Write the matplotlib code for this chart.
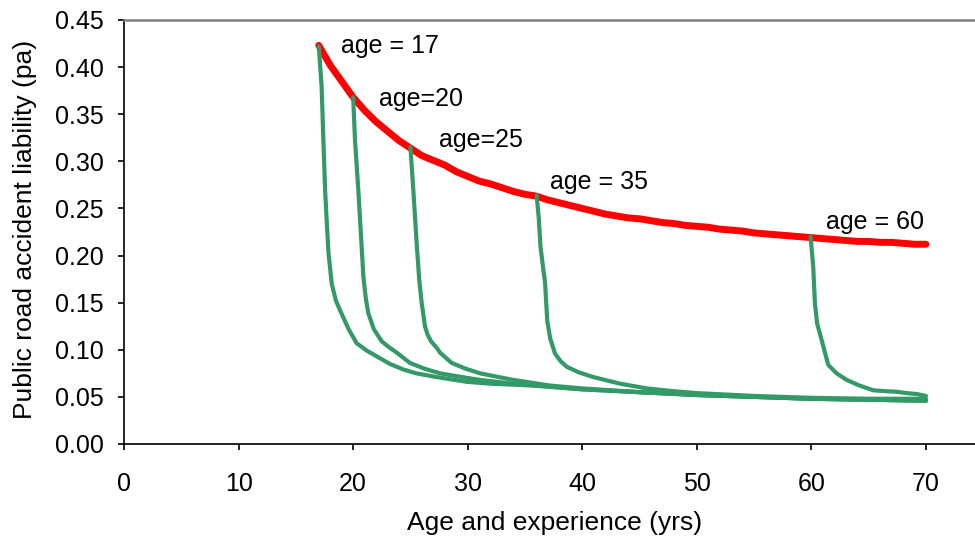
import matplotlib
matplotlib.use("Agg")
import matplotlib.pyplot as plt

plt.rcParams['font.family'] = ['Liberation Sans', 'DejaVu Sans']

# Red envelope: liability at start of driving by age
red_age = list(range(17, 71))
red_pa = [0.423, 0.402, 0.385, 0.368, 0.354, 0.342, 0.332, 0.322, 0.314, 0.306,
          0.301, 0.296, 0.289, 0.284, 0.279, 0.276, 0.272, 0.268, 0.265, 0.263,
          0.259, 0.256, 0.253, 0.250, 0.247, 0.244, 0.242, 0.240, 0.239, 0.237,
          0.235, 0.234, 0.232, 0.231, 0.230, 0.228, 0.227, 0.226, 0.224, 0.223,
          0.222, 0.221, 0.220, 0.219, 0.218, 0.217, 0.216, 0.215, 0.215, 0.214,
          0.214, 0.213, 0.212, 0.212]

# Green curves: liability as experience accumulates from a given starting age
g17_age = [17.0, 17.25, 17.4, 17.55, 17.7, 17.84, 18.13, 18.5, 19.0, 19.6, 20.3,
           21.2, 22.06, 23.2, 24.4, 25.5, 27.3, 29.9, 32.0, 35.7, 40, 45, 50, 55,
           60, 65, 70]
g17_pa = [0.422, 0.379, 0.323, 0.270, 0.235, 0.204, 0.170, 0.152, 0.138, 0.122,
          0.107, 0.099, 0.093, 0.085, 0.079, 0.075, 0.071, 0.066, 0.064, 0.062,
          0.058, 0.055, 0.052, 0.050, 0.048, 0.047, 0.046]

g20_age = [20.0, 20.16, 20.45, 20.75, 20.89, 21.1, 21.32, 21.8, 22.49, 23.1, 23.8,
           24.96, 26.2, 27.58, 29.0, 31.07, 34, 37, 40, 45, 50, 55, 60, 65, 70]
g20_pa = [0.368, 0.323, 0.270, 0.208, 0.178, 0.155, 0.139, 0.122, 0.109, 0.103,
          0.097, 0.086, 0.080, 0.075, 0.072, 0.068, 0.064, 0.061, 0.058, 0.055,
          0.052, 0.050, 0.048, 0.047, 0.046]

g25_age = [25.0, 25.25, 25.55, 25.77, 25.98, 26.27, 26.5, 26.8, 27.3, 27.58, 28.6,
           29.8, 31.07, 33.98, 37.2, 40, 45, 50, 55, 60, 65, 70]
g25_pa = [0.315, 0.270, 0.212, 0.174, 0.150, 0.125, 0.116, 0.109, 0.102, 0.097,
          0.086, 0.080, 0.075, 0.068, 0.062, 0.059, 0.055, 0.052, 0.050, 0.048,
          0.047, 0.046]

g35_age = [36.02, 36.2, 36.35, 36.6, 36.75, 36.85, 36.95, 37.2, 37.62, 38.1, 38.64,
           39.7, 40.97, 43.3, 45.62, 48, 50, 55, 60, 65, 70]
g35_pa = [0.264, 0.240, 0.210, 0.185, 0.172, 0.150, 0.130, 0.112, 0.096, 0.088,
          0.082, 0.076, 0.071, 0.064, 0.059, 0.056, 0.054, 0.051, 0.049, 0.048,
          0.048]

g60_age = [59.93, 60.16, 60.31, 60.5, 60.9, 61.47, 62.2, 63.08, 64.2, 65.4, 66.5,
           67.4, 68.3, 69.2, 70]
g60_pa = [0.220, 0.188, 0.149, 0.128, 0.110, 0.084, 0.075, 0.068, 0.062, 0.057,
          0.056, 0.0555, 0.054, 0.053, 0.051]

labels = ["age = 17", "age=20", "age=25", "age = 35", "age = 60"]
label_age = [18.9, 22.3, 27.5, 37.2, 61.3]
label_pa = [0.4225, 0.366, 0.3227, 0.2784, 0.236]

RED = '#FF0000'
GREEN = '#339966'

fig = plt.figure(figsize=(9.75, 5.4), dpi=100)
ax = fig.add_axes([0.1272, 0.1778, 0.8728, 0.7852])

ax.plot(red_age, red_pa, color=RED, lw=5, solid_capstyle='round', zorder=2)
for xs, ys in [(g17_age, g17_pa), (g20_age, g20_pa), (g25_age, g25_pa),
               (g35_age, g35_pa), (g60_age, g60_pa)]:
    ax.plot(xs, ys, color=GREEN, lw=3, solid_capstyle='round', zorder=3)

for t, x, y in zip(labels, label_age, label_pa):
    ax.text(x, y, t, fontsize=18, ha='left', va='center', color='black')

ax.set_xlim(0, 74.28)
ax.set_ylim(0, 0.45)
ax.set_xticks(range(0, 71, 10))
ax.set_yticks([i * 0.05 for i in range(10)])
ax.set_yticklabels([f"{i * 0.05:.2f}" for i in range(10)])

ax.spines['right'].set_visible(False)
ax.spines['top'].set_color('#808080')
ax.spines['top'].set_linewidth(1.8)
ax.spines['left'].set_color('black')
ax.spines['bottom'].set_color('black')
ax.spines['left'].set_linewidth(1.2)
ax.spines['bottom'].set_linewidth(1.2)

ax.tick_params(axis='x', direction='out', length=4.5, width=1.2, labelsize=18, pad=16)
ax.tick_params(axis='y', direction='out', length=4.5, width=1.2, labelsize=18, pad=10)

ax.set_xlabel("Age and experience (yrs)", fontsize=19)
ax.set_ylabel("Public road accident liability (pa)", fontsize=19)
ax.xaxis.set_label_coords(0.5065, -0.158)
ax.yaxis.set_label_coords(-0.102, 0.505)

fig.savefig("out.png", dpi=100)
